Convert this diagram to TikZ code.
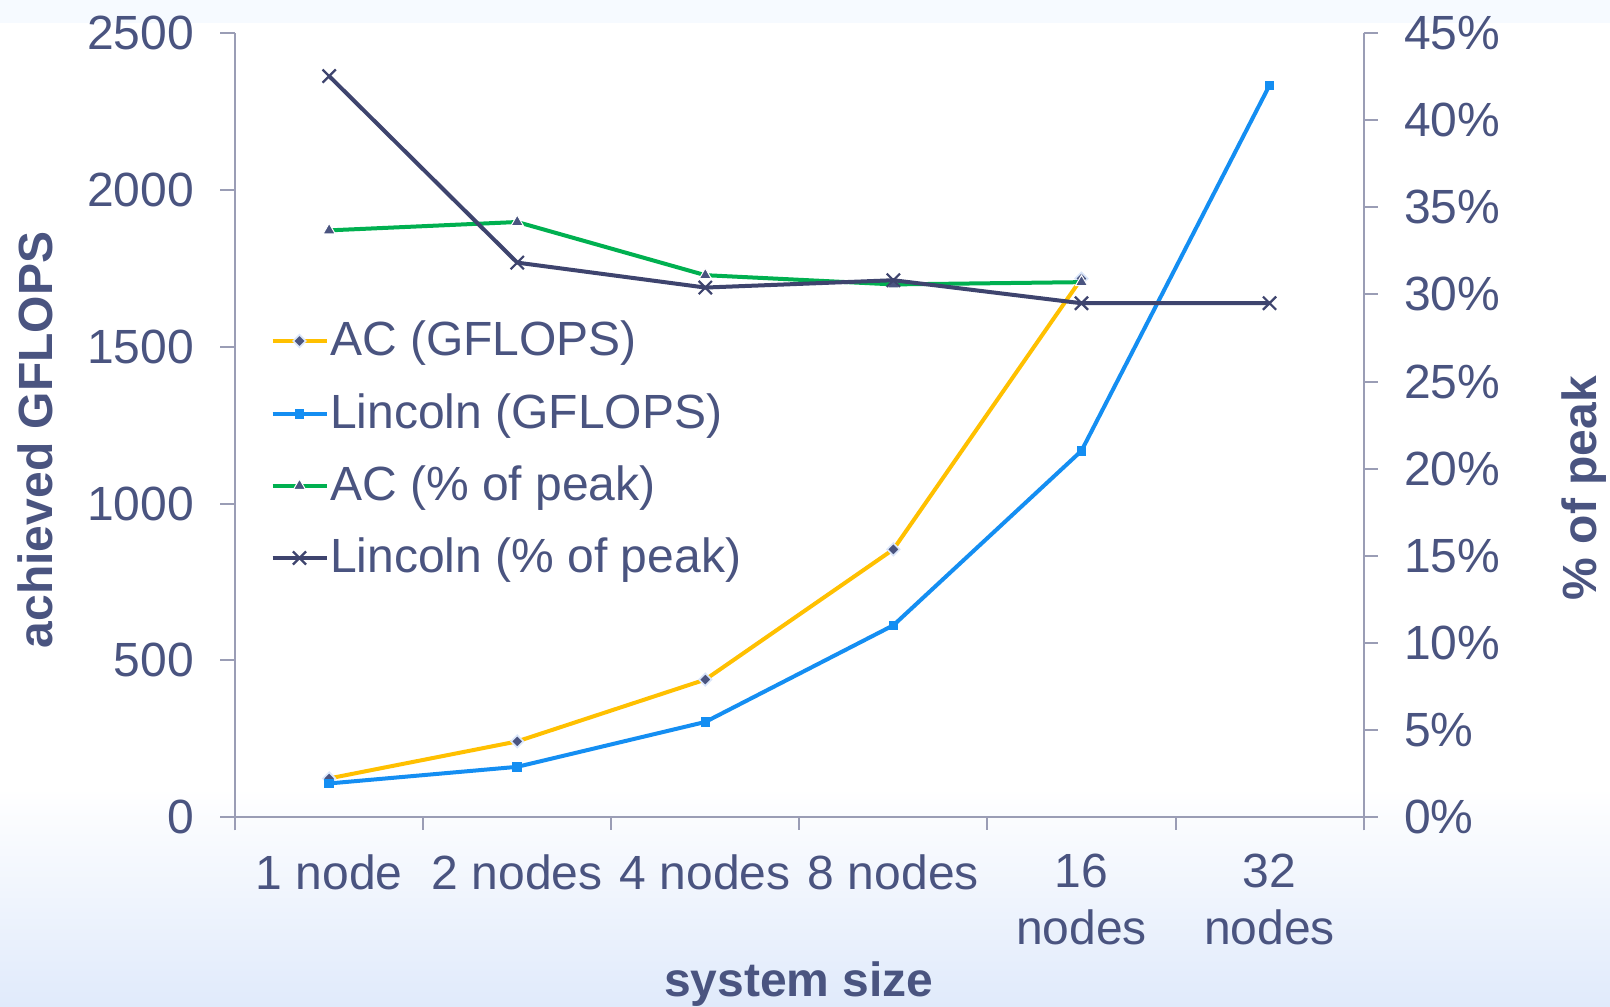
\documentclass[tikz,border=0pt]{standalone}
\usepackage{fontspec}
\setmainfont{Liberation Sans}
\usetikzlibrary{shapes.geometric,shapes.misc}

\definecolor{txt}{RGB}{74,84,128}
\definecolor{axisgray}{RGB}{154,157,181}
\definecolor{acgold}{RGB}{255,192,0}
\definecolor{lincblue}{RGB}{20,142,242}
\definecolor{acgreen}{RGB}{0,176,80}
\definecolor{lincnavy}{RGB}{62,68,110}
\definecolor{halo}{RGB}{218,230,250}
\definecolor{bgtop}{RGB}{246,250,255}
\definecolor{bgbot}{RGB}{224,234,251}

\begin{document}
\begin{tikzpicture}[x=1pt,y=1pt,
  lab/.style={font=\fontsize{48}{57}\selectfont, text=txt, inner sep=0pt},
  boldlab/.style={lab, font=\fontsize{48}{57}\selectfont\bfseries},
  axisline/.style={draw=axisgray, line width=2pt},
  series/.style={line width=4pt, line join=round},
  diamondmark/.style={diamond, fill=txt, draw=halo, line width=1.6pt, minimum size=13pt, inner sep=0pt},
  squaremark/.style={rectangle, fill=lincblue, minimum size=9.5pt, inner sep=0pt},
  trimark/.style={regular polygon, regular polygon sides=3, fill=txt, draw=white, line width=1pt, minimum size=14pt, inner sep=0pt},
  crossmark/.style={cross out, draw=lincnavy, line width=2.2pt, minimum size=11pt, inner sep=0pt}]

\useasboundingbox (0,0) rectangle (1610,1007);

% background: pale band on top, white chart area, soft blue fade below
\fill[bgtop] (0,0) rectangle (1610,1007);
\fill[white] (0,219) rectangle (1610,984);
\shade[top color=white, bottom color=bgbot] (0,0) rectangle (1610,219);

% axes
\draw[axisline] (235.1,176.5) -- (235.1,974.14);
\draw[axisline] (1363.6,176.5) -- (1363.6,974.14);
\draw[axisline] (235.1,189.65) -- (1363.6,189.65);
\foreach \k in {1,...,5}
  \draw[axisline] ({235.1+\k*188.08},189.65) -- ({235.1+\k*188.08},176.5);
\foreach \v in {0,500,...,2500}
  \draw[axisline] (220,{189.65+\v*0.3138}) -- (235.1,{189.65+\v*0.3138});
\foreach \p in {0,5,...,45}
  \draw[axisline] (1363.6,{189.65+\p*17.433}) -- (1378,{189.65+\p*17.433});

% tick labels
\foreach \v in {0,500,...,2500}
  \node[lab, anchor=east] (yl\v) at (194,{189.65+\v*0.3138}) {\v};
\foreach \p in {0,5,...,45}
  \node[lab, anchor=west] (yr\p) at (1404,{189.65+\p*17.433}) {\p\%};

% category labels
\foreach \t [count=\i] in {1 node,2 nodes,4 nodes,8 nodes}
  \node[lab, anchor=north] (cat\i) at ({235.1+(\i-0.5)*188.08},152.8) {\t};
\node[lab, anchor=north, align=center] (cat5) at ({235.1+4.5*188.08},152.8) {16\\nodes};
\node[lab, anchor=north, align=center] (cat6) at ({235.1+5.5*188.08},152.8) {32\\nodes};

% axis titles
\node[boldlab, anchor=base] (xtitle) at (799,10.3) {system size};
\node[boldlab, anchor=base, rotate=90] (yltitle) at (52,567) {achieved GFLOPS};
\node[boldlab, anchor=base, rotate=90] (yrtitle) at (1596,519) {\% of peak};

% data points, GFLOPS on the left scale
\begin{scope}[shift={(235.1pt,189.65pt)}, x=188.08pt, y=0.3138pt]
  \coordinate (a1) at (0.5,124);
  \coordinate (a2) at (1.5,242);
  \coordinate (a3) at (2.5,439);
  \coordinate (a4) at (3.5,854);
  \coordinate (a5) at (4.5,1717);
  \coordinate (l1) at (0.5,108);
  \coordinate (l2) at (1.5,161);
  \coordinate (l3) at (2.5,304);
  \coordinate (l4) at (3.5,612);
  \coordinate (l5) at (4.5,1168);
  \coordinate (l6) at (5.5,2333);
\end{scope}
% data points, percentage of peak on the right scale
\begin{scope}[shift={(235.1pt,189.65pt)}, x=188.08pt, y=17.433pt]
  \coordinate (p1) at (0.5,33.67);
  \coordinate (p2) at (1.5,34.15);
  \coordinate (p3) at (2.5,31.1);
  \coordinate (p4) at (3.5,30.57);
  \coordinate (p5) at (4.5,30.7);
  \coordinate (q1) at (0.5,42.52);
  \coordinate (q2) at (1.5,31.82);
  \coordinate (q3) at (2.5,30.39);
  \coordinate (q4) at (3.5,30.81);
  \coordinate (q5) at (4.5,29.49);
  \coordinate (q6) at (5.5,29.49);
\end{scope}

% AC (GFLOPS)
\draw[series, acgold] (a1) -- (a2) -- (a3) -- (a4) -- (a5);
\foreach \i in {1,...,5} \node[diamondmark] (ma\i) at (a\i) {};
% Lincoln (GFLOPS)
\draw[series, lincblue] (l1) -- (l2) -- (l3) -- (l4) -- (l5) -- (l6);
\foreach \i in {1,...,6} \node[squaremark] (ml\i) at (l\i) {};
% AC (% of peak)
\draw[series, acgreen] (p1) -- (p2) -- (p3) -- (p4) -- (p5);
\foreach \i in {1,...,5} \node[trimark] (mp\i) at (p\i) {};
% Lincoln (% of peak)
\draw[series, lincnavy] (q1) -- (q2) -- (q3) -- (q4) -- (q5) -- (q6);
\foreach \i in {1,...,6} \node[crossmark] (mq\i) at (q\i) {};

% legend
\foreach \ly/\st/\mk/\txt [count=\j] in
  {666/acgold/diamondmark/AC (GFLOPS),
   593/lincblue/squaremark/Lincoln (GFLOPS),
   521/acgreen/trimark/AC (\% of peak),
   449/lincnavy/crossmark/Lincoln (\% of peak)} {
  \coordinate (lgs\j) at (272.5,\ly);
  \coordinate (lge\j) at (326.5,\ly);
  \draw[series, \st] (lgs\j) -- (lge\j);
  \node[\mk] (lgm\j) at (299.5,\ly) {};
  \node[lab, anchor=base west] (lgt\j) at (330,{\ly-15}) {\txt};
}
\end{tikzpicture}
\end{document}
